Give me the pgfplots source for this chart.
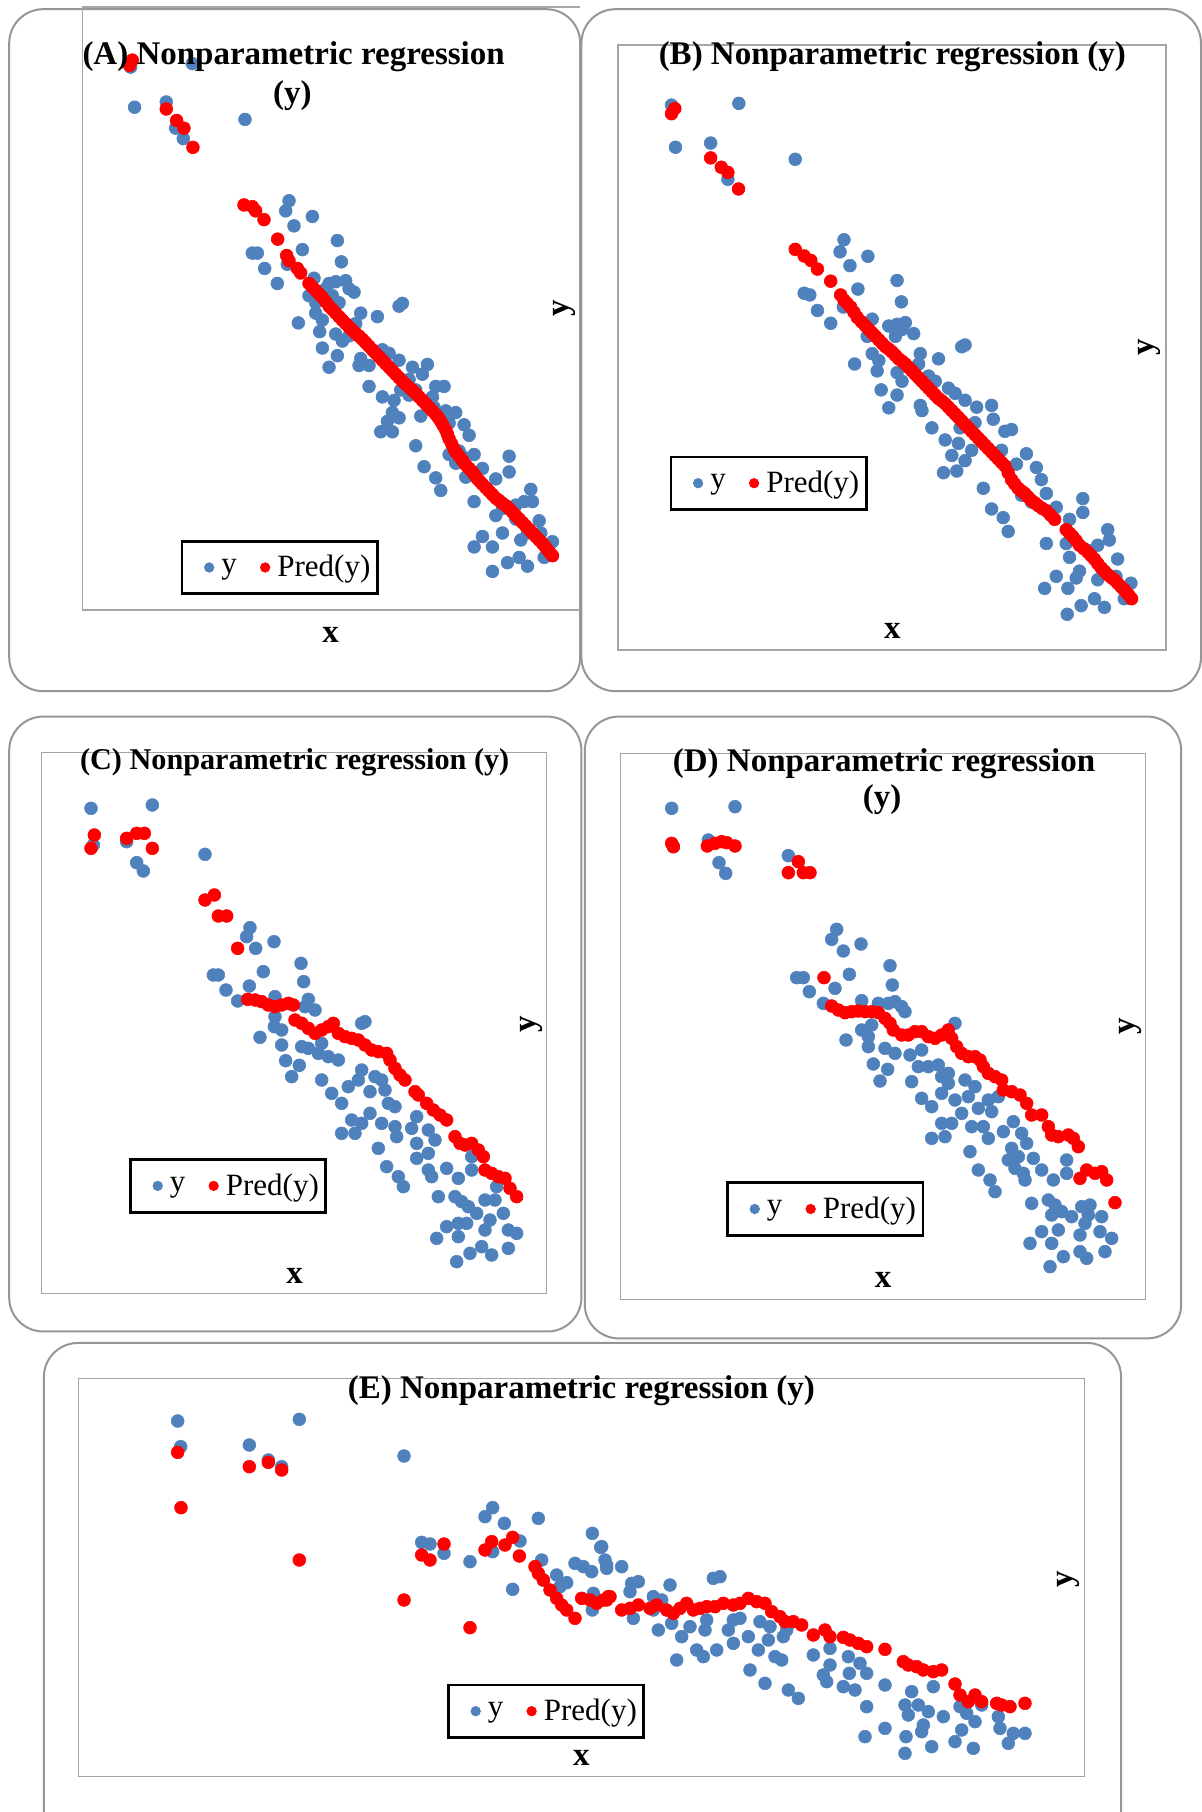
\documentclass[border=0pt]{standalone}
\usepackage{pgfplots}
\pgfplotsset{compat=1.18}
\usepackage{fontspec}
\setmainfont{Liberation Serif}
\definecolor{ptblue}{RGB}{79,129,189}
\definecolor{ptred}{RGB}{255,0,0}
\definecolor{framegray}{RGB}{150,150,150}
\definecolor{boxgray}{RGB}{165,165,165}
\pgfplotsset{
  panel/.style={scale only axis, axis lines=none, ticks=none, y dir=reverse, anchor=south west, clip=true,
    legend columns=2,
    legend style={anchor=center, draw=black, line width=1.4pt, fill=white,
      font=\fontsize{15.5}{17}\selectfont, inner xsep=2.5pt, inner ysep=5pt,
      nodes={inner xsep=1pt},
      /tikz/every even column/.append style={column sep=2pt}},
    legend image code/.code={\path[draw=none,fill=none] (-0.39cm,-0.1cm) rectangle (0.18cm,0.1cm);
      \draw[#1,mark size=2.4pt] plot coordinates {(0cm,0cm)};},
  },
  yser/.style={only marks, mark=*, mark size=3.2pt, color=ptblue, mark options={draw=ptblue, fill=ptblue, line width=0.3pt}},
  pser/.style={only marks, mark=*, mark size=3.2pt, color=ptred, mark options={draw=ptred, fill=ptred, line width=0.3pt}},
}
\newcommand{\ttl}{\bfseries\fontsize{16.5}{19}\selectfont}
\begin{document}
\begin{tikzpicture}
\path[use as bounding box] (0,0) rectangle (601pt,906pt);
\clip (0,0) rectangle (601pt,906pt);
% panel frames
\draw[framegray, line width=1pt, rounded corners=17pt] (4.6pt,560.4pt) rectangle (290.1pt,901.4pt);
\draw[framegray, line width=1pt, rounded corners=17pt] (290.7pt,560.4pt) rectangle (600.5pt,901.4pt);
\draw[framegray, line width=1pt, rounded corners=17pt] (4.6pt,240.25pt) rectangle (290.7pt,547.7pt);
\draw[framegray, line width=1pt, rounded corners=17pt] (292.4pt,236.8pt) rectangle (590.6pt,547.7pt);
\draw[framegray, line width=1pt, rounded corners=17pt] (21.95pt,-30pt) rectangle (560.55pt,234.5pt);
% plot area boxes
\draw[boxgray, line width=0.6pt] (290pt,902.5pt) -- (41.4pt,902.5pt) -- (41.4pt,601pt) -- (290pt,601pt);
\draw[boxgray, line width=0.6pt] (309pt,581pt) rectangle (583pt,883.5pt);
\draw[boxgray, line width=0.6pt] (20.8pt,259.35pt) rectangle (273.35pt,529.8pt);
\draw[boxgray, line width=0.6pt] (310.35pt,256.4pt) rectangle (572.7pt,529.2pt);
\draw[boxgray, line width=0.6pt] (39.3pt,17.75pt) rectangle (542.05pt,216.55pt);

% ---------------- Panel A ----------------
\begin{axis}[panel, at={(41.4pt,601pt)}, width=248.6pt, height=301.5pt,
  xmin=-98.3, xmax=1392.5, ymin=-87.2, ymax=1640.6,
  legend style={at={(0.396,0.0705)}}]
\addplot[yser] coordinates {
(45,85) (230,75) (57,200) (152,185) (180,260) (203,290) (388,235)
(520,468) (510,497) (590,513) (535,540) (665,582) (560,608) (410,618) (425,618) (677,643) (447,662) (485,705) (515,650)
(595,690) (640,705) (660,700) (690,697) (715,730) (580,740) (600,760) (630,720) (650,740) (670,760) (700,720)
(850,770) (860,762) (785,800) (735,790) (720,820) (600,790) (620,810) (548,818) (612,843) (660,850) (680,870) (700,855) (620,890) (665,912) (640,945)
(730,940) (760,940) (775,900) (800,895) (820,905) (850,925) (735,920) (890,945) (935,937) (920,965) (760,1000) (800,1030) (835,1040) (855,1010) (880,1025) (900,1010) (960,1000) (985,1000) (940,1045) (955,1060)
(830,1075) (850,1090) (815,1100) (795,1130) (830,1130) (915,1085) (1020,1075) (1000,1105) (1045,1110) (1060,1140) (900,1170) (925,1230) (960,1262) (975,1298)
(1000,1195) (1030,1185) (1075,1195) (1100,1235) (1020,1220) (1050,1260) (1075,1330) (1140,1265) (1180,1200) (1180,1245) (1140,1370) (1200,1340) (1225,1330) (1245,1295) (1250,1330) (1270,1385) (1215,1440) (1235,1420) (1275,1420) (1310,1445) (1285,1490)
(1075,1460) (1100,1430) (1130,1460) (1160,1420) (1130,1530) (1175,1505) (1210,1490) (1235,1515)
(950,1030) (880,980) (990,1070) (1040,1200) (1160,1350) (1200,1380)
};
\addlegendentry{y}
\addplot[pser] coordinates {
(42,80) (50,65) (152,205) (183,238) (205,260) (232,315)
(385,480) (410,485) (420,497) (445,522) (486,578) (513,625) (520,640) (545,662) (555,675)
(580,705) (600,725) (620,745) (640,770) (660,790) (680,810) (700,830) (720,848) (740,865) (760,885) (780,905) (800,925) (820,945) (840,965) (860,985) (880,1003) (900,1020) (920,1040) (940,1060) (960,1080) (975,1100) (990,1125) (1000,1150) (1015,1180) (1030,1200) (1050,1225) (1070,1245) (1085,1265) (1100,1280) (1120,1300) (1140,1320) (1160,1335) (1180,1350) (1200,1370) (1220,1390) (1240,1410) (1260,1430) (1280,1450) (1295,1468) (1310,1485)
(590,715) (610,735) (630,757) (650,780) (670,800) (690,820) (710,839) (730,856) (750,875) (770,895) (790,915) (810,935) (830,955) (850,975) (870,994) (890,1011) (910,1030) (930,1050) (950,1070) (968,1090) (982,1112) (995,1137) (1008,1165) (1022,1190) (1040,1212) (1060,1235) (1078,1255) (1092,1272) (1110,1290) (1130,1310) (1150,1327) (1170,1342) (1190,1360) (1210,1380) (1230,1400) (1250,1420) (1270,1440) (1288,1459) (1302,1476)
};
\addlegendentry{Pred(y)}
\end{axis}

% ---------------- Panel B ----------------
\begin{axis}[panel, at={(309pt,581pt)}, width=274pt, height=302.5pt,
  xmin=-116.3, xmax=1535.8, ymin=-124.1, ymax=1628.5,
  legend style={at={(0.2748,0.2757)}}]
\addplot[yser] coordinates {
(45,50) (248,45) (57,172) (163,160) (215,265) (418,207)
(565,440) (553,475) (637,488) (583,515) (725,558) (607,583) (738,620) (445,595) (462,600) (485,645) (525,682) (563,635)
(700,690) (725,685) (750,680) (775,712) (720,720) (740,700) (650,670) (635,720) (650,770) (670,790) (597,800) (665,820) (795,770) (790,800) (850,785) (725,825) (740,850) (677,875) (725,890) (700,927) (795,920) (820,835) (840,850) (930,745) (920,750)
(880,870) (900,885) (930,905) (965,925) (1010,920) (1015,960) (800,935) (830,985) (870,1020) (910,1030) (915,985) (960,970) (1050,995) (1070,990) (1040,1050) (950,1050) (890,1065) (865,1115) (905,1110) (930,1080) (985,1160) (1010,1220) (1045,1245) (1060,1285)
(1115,1060) (1085,1090) (1145,1100) (1160,1135) (1100,1180) (1130,1200) (1175,1175) (1205,1215) (1175,1320) (1285,1190) (1285,1230) (1245,1250) (1235,1320) (1245,1360) (1300,1340) (1330,1325) (1360,1280) (1365,1310) (1390,1365) (1330,1425) (1385,1415) (1430,1435) (1410,1480)
(1170,1450) (1205,1415) (1240,1450) (1265,1420) (1275,1400) (1320,1480) (1280,1500) (1350,1505) (1238,1525)
};
\addlegendentry{y}
\addplot[pser] coordinates {
(45,75) (55,60) (163,203) (195,230) (215,245) (247,293)
(418,468) (445,487) (465,500) (485,525) (525,560) (555,600) (565,615) (585,635) (605,665) (630,690) (650,710) (670,730) (690,750) (710,765) (730,785) (750,800) (770,820) (790,840) (810,860) (830,880) (850,900) (870,915) (890,935) (910,955) (930,975) (950,995) (970,1015) (990,1035) (1010,1055) (1030,1075) (1050,1095) (1070,1135) (1090,1160) (1110,1175) (1130,1195) (1150,1210) (1175,1225) (1200,1250) (1235,1280) (1255,1300) (1275,1325) (1300,1345) (1320,1365) (1340,1390) (1360,1410) (1380,1425) (1400,1445) (1415,1460) (1432,1480)
(575,625) (595,650) (618,678) (640,700) (660,720) (680,740) (700,757) (720,775) (740,792) (760,810) (780,830) (800,850) (820,870) (840,890) (860,907) (880,925) (900,945) (920,965) (940,985) (960,1005) (980,1025) (1000,1045) (1020,1065) (1040,1085) (1060,1115) (1080,1148) (1100,1168) (1120,1185) (1140,1202) (1162,1218) (1188,1238) (1245,1290) (1265,1312) (1288,1335) (1310,1355) (1330,1378) (1350,1400) (1370,1418) (1390,1435) (1408,1452) (1424,1470)
};
\addlegendentry{Pred(y)}
\end{axis}

% ---------------- Panel C ----------------
\begin{axis}[panel, at={(20.8pt,259.35pt)}, width=252.55pt, height=270.45pt,
  xmin=-100.2, xmax=1415.1, ymin=-112.8, ymax=1509.9,
  legend style={at={(0.3694,0.1986)}}]
\addplot[yser] coordinates {
(48,55) (232,45) (55,165) (155,155) (185,218) (205,243) (390,193)
(525,413) (515,440) (542,475) (597,455) (678,520) (565,545) (686,575) (415,555) (430,555) (453,600) (523,588) (488,633) (600,620) (700,628) (720,660) (690,650)
(555,742) (600,680) (620,720) (598,710) (620,765) (632,812) (650,860) (673,826) (680,770) (700,775) (740,760) (730,790) (760,800) (790,810) (740,870) (770,910) (800,940) (820,890) (850,870) (860,840) (870,695) (860,700) (900,860) (920,870) (885,905) (930,900) (960,950) (940,940)
(800,1030) (840,1030) (830,990) (860,1000) (885,970) (920,1000) (960,1010) (965,1040) (1025,980) (1010,1015) (1060,1020) (1080,1050)
(910,1075) (935,1130) (970,1160) (985,1190) (1025,1060) (1025,1105) (1060,1090) (1060,1140) (1070,1160) (1115,1135) (1090,1220) (1150,1165) (1190,1100) (1190,1140)
(1140,1220) (1160,1235) (1180,1250) (1205,1270) (1150,1300) (1115,1310) (1085,1345) (1150,1340) (1175,1300) (1185,1390) (1145,1415) (1220,1370) (1250,1395) (1230,1320) (1245,1290) (1260,1230) (1285,1270) (1300,1320) (1325,1330) (1300,1375) (1265,1190) (1230,1230)
};
\addlegendentry{y}
\addplot[pser] coordinates {
(48,175) (58,135) (155,145) (185,130) (208,130) (232,175)
(390,330) (418,315) (430,378) (455,378) (488,475)
(518,628) (540,630) (560,635) (580,645) (600,650) (620,645) (640,640) (655,645) (660,690) (680,700) (700,715) (720,730) (740,720) (760,710) (775,700) (790,730) (810,740) (830,745) (850,750) (870,765) (890,780) (910,785) (935,790) (945,810) (960,835) (975,855) (990,870) (1020,905) (1030,915) (1055,940) (1075,960) (1095,975) (1115,990) (1140,1040) (1155,1060) (1170,1065) (1190,1060) (1210,1080) (1225,1100) (1230,1140) (1250,1150) (1270,1160) (1290,1165) (1305,1195) (1325,1220)
};
\addlegendentry{Pred(y)}
\end{axis}

% ---------------- Panel D ----------------
\begin{axis}[panel, at={(310.35pt,256.4pt)}, width=262.35pt, height=272.8pt,
  xmin=-102.9, xmax=1471.2, ymin=-109.2, ymax=1527.6,
  legend style={at={(0.3898,0.1653)}}]
\addplot[yser] coordinates {
(50,55) (240,50) (55,170) (160,150) (192,218) (212,250) (400,197)
(545,418) (530,448) (565,483) (618,462) (705,527) (583,553) (712,585) (425,563) (445,563) (463,605) (540,595) (505,640) (620,632) (670,640) (700,640) (720,635) (750,665) (740,650)
(573,750) (620,720) (640,740) (650,705) (640,770) (655,822) (675,873) (698,838) (690,775) (720,790) (765,795) (770,875) (790,830) (800,780) (820,830) (850,825) (860,860) (900,700) (880,850) (800,925) (830,950) (860,910) (880,880) (900,930) (930,870) (960,890) (940,920) (970,955) (1000,930) (1030,920) (1010,965)
(830,1045) (870,1040) (860,1000) (890,1000) (920,970) (950,1010) (985,1010) (1000,1045) (1045,1025) (1075,995) (1100,1030) (1115,1060)
(945,1085) (970,1140) (1005,1170) (1020,1205) (1060,1110) (1070,1075) (1090,1100) (1080,1135) (1105,1150) (1135,1105) (1160,1140) (1110,1170) (1130,1240) (1195,1170) (1235,1110) (1235,1150)
(1180,1230) (1200,1245) (1220,1265) (1250,1280) (1190,1275) (1160,1325) (1125,1360) (1190,1360) (1210,1320) (1225,1400) (1185,1430) (1275,1385) (1295,1405) (1275,1335) (1290,1300) (1305,1245) (1280,1250) (1300,1275) (1340,1280) (1335,1325) (1370,1345) (1350,1385)
};
\addlegendentry{y}
\addplot[pser] coordinates {
(50,160) (55,170) (157,168) (180,160) (200,155) (215,158) (240,168)
(400,248) (430,215) (445,248) (465,248)
(507,563)
(530,648) (550,660) (570,668) (590,665) (610,663) (630,665) (650,665) (670,668) (690,685) (705,700) (715,720) (740,735) (760,735) (780,725) (800,725) (820,740) (840,745) (860,735) (880,720) (890,745) (905,770) (920,790) (940,800) (960,800) (975,810) (985,830) (1000,850) (1020,860) (1040,870) (1045,900) (1070,905) (1095,915) (1115,940) (1130,975) (1160,975) (1180,1010) (1190,1035) (1210,1040) (1240,1035) (1255,1045) (1270,1070) (1275,1165) (1295,1140) (1320,1150) (1340,1145) (1355,1170) (1380,1238)
};
\addlegendentry{Pred(y)}
\end{axis}

% ---------------- Panel E ----------------
\begin{axis}[panel, at={(39.3pt,17.75pt)}, width=502.75pt, height=198.8pt,
  xmin=-244.2, xmax=2772.3, ymin=-63.3, ymax=1129.5,
  legend style={at={(0.465,0.1642)}}]
\addplot[yser] coordinates {
(53,63) (62,140) (268,135) (325,180) (365,200) (418,58) (732,168)
(785,427) (810,432) (852,460) (930,485) (975,350) (998,323) (1033,370) (1135,355) (1080,423) (998,455) (1058,568) (1145,480) (1190,525) (1220,548) (1245,490) (1270,500) (1295,515) (1297,400) (1322,442) (1340,495) (1300,580) (1297,630) (1150,540) (1200,560)
(1325,440) (1335,480) (1340,505) (1385,500) (1415,550) (1435,545) (1410,575) (1480,590) (1505,600) (1530,555) (1420,655) (1480,630) (1495,690) (1550,780) (1535,670) (1565,710) (1590,680) (1610,750) (1630,770) (1635,690) (1640,660) (1660,535) (1680,530) (1670,750) (1705,690) (1720,730) (1720,660) (1740,655) (1765,710) (1795,750) (1800,665) (1825,720) (1830,680) (1770,810) (1815,850) (1845,770) (1865,780) (1870,710) (1880,690) (1885,870) (1915,895) (1960,765) (2010,745) (2010,795) (1990,825) (2000,845) (2065,770) (2068,820) (2100,790) (2120,820) (2050,860) (2085,870) (2120,920) (2175,855) (2175,985) (2115,1010) (2235,915) (2255,875) (2245,945) (2275,915) (2305,935) (2320,860) (2350,950) (2290,975) (2285,995) (2238,1010) (2235,1060) (2315,1040) (2385,1025) (2405,990) (2400,920) (2420,940) (2445,965) (2440,1045) (2465,915) (2515,950) (2520,985) (2560,1000) (2545,1030) (2595,1000)
};
\addlegendentry{y}
\addplot[pser] coordinates {
(53,157) (63,323) (268,200) (325,187) (365,210) (418,480) (732,600) (930,683)
(785,465) (810,480) (852,432) (975,450) (995,425) (1035,435) (1058,412) (1078,468)
(1125,500) (1135,520) (1150,540) (1170,570) (1190,595) (1205,615) (1220,630) (1245,655) (1265,595) (1290,600) (1310,610) (1330,600) (1350,590)
(1340,600) (1345,590) (1385,630) (1410,625) (1435,615) (1470,625) (1490,615) (1520,630) (1540,640) (1560,625) (1580,610) (1600,630) (1620,625) (1640,620) (1665,620) (1690,610) (1720,615) (1740,610) (1765,595) (1790,605) (1815,610) (1835,635) (1860,650) (1875,665) (1900,665) (1925,675) (1960,705) (1995,690) (2010,710) (2050,712) (2070,720) (2095,730) (2120,740) (2175,748) (2230,785) (2245,795) (2270,800) (2290,810) (2320,815) (2345,810) (2385,852) (2400,885) (2425,905) (2445,885) (2465,905) (2510,910) (2525,915) (2550,920) (2595,910)
};
\addlegendentry{Pred(y)}
\end{axis}

% titles and axis labels
\node[font=\ttl] at (146.8pt,877.7pt) {(A) Nonparametric regression};
\node[font=\ttl] at (146.2pt,858pt) {(y)};
\node[font=\ttl] at (446.15pt,877.7pt) {(B) Nonparametric regression (y)};
\node[font=\bfseries\fontsize{15.1}{17}\selectfont] at (147.35pt,524.6pt) {(C) Nonparametric regression (y)};
\node[font=\ttl] at (442pt,524pt) {(D) Nonparametric regression};
\node[font=\ttl] at (441pt,506pt) {(y)};
\node[font=\ttl] at (290.7pt,210.8pt) {(E) Nonparametric regression (y)};
\node[font=\ttl] at (165.3pt,588.7pt) {x};
\node[font=\ttl, rotate=90] at (282pt,751.7pt) {y};
\node[font=\ttl] at (446.15pt,590.5pt) {x};
\node[font=\ttl, rotate=90] at (574.5pt,732.6pt) {y};
\node[font=\ttl] at (147.35pt,268pt) {x};
\node[font=\ttl, rotate=90] at (265.9pt,394pt) {y};
\node[font=\ttl] at (441.5pt,266.2pt) {x};
\node[font=\ttl, rotate=90] at (565.2pt,392.9pt) {y};
\node[font=\ttl] at (290.7pt,27pt) {x};
\node[font=\ttl, rotate=90] at (534pt,116.6pt) {y};
\end{tikzpicture}
\end{document}
